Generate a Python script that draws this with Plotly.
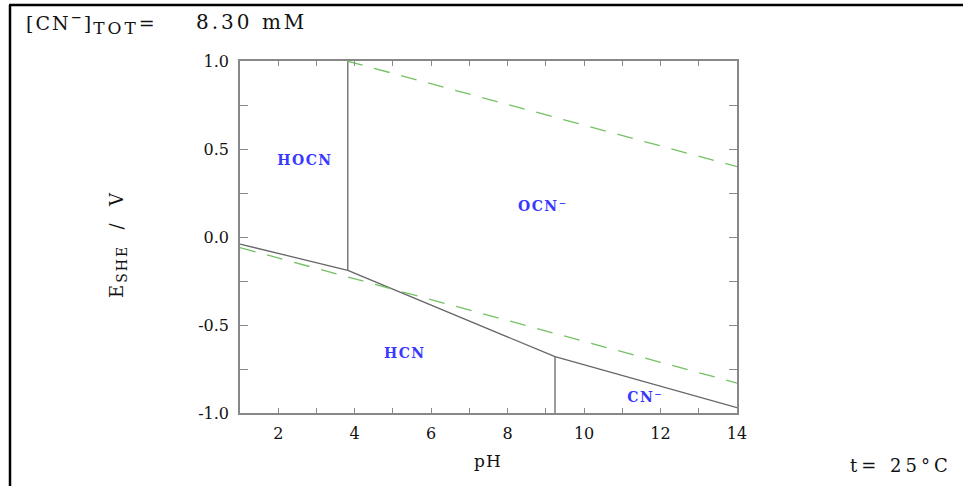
import plotly.graph_objects as go

# Boundary lines
hocn_hcn_ph = [1.0, 3.82]
hocn_hcn_e = [-0.04, -0.19]
ocn_hcn_ph = [3.82, 9.24]
ocn_hcn_e = [-0.19, -0.68]
ocn_cn_ph = [9.24, 14.0]
ocn_cn_e = [-0.68, -0.97]
v1_ph = [3.82, 3.82]
v1_e = [1.0, -0.19]
v2_ph = [9.24, 9.24]
v2_e = [-0.68, -1.0]
# water stability lines
o2_ph = [3.8, 14.0]
o2_e = [1.0, 0.40]
h2_ph = [1.0, 14.0]
h2_e = [-0.06, -0.83]

species = ["HOCN", "OCN⁻", "HCN", "CN⁻"]
species_ph = [2.7, 8.92, 5.31, 11.6]
species_e = [0.43, 0.17, -0.67, -0.92]

x_ticks = [2, 4, 6, 8, 10, 12, 14]
y_ticks = [-1.0, -0.5, 0.0, 0.5, 1.0]
y_ticktext = ["-1.0", "-0.5", "0.0", "0.5", "1.0"]

SERIF = "DejaVu Serif"
GRAY = "#666666"
GREEN = "#74c163"
BLUE = "#3838ff"
TXT = "#111111"

fig = go.Figure()
for xs, ys in [(hocn_hcn_ph, hocn_hcn_e), (ocn_hcn_ph, ocn_hcn_e), (ocn_cn_ph, ocn_cn_e),
               (v1_ph, v1_e), (v2_ph, v2_e)]:
    fig.add_trace(go.Scatter(x=xs, y=ys, mode="lines", line=dict(color=GRAY, width=1.3),
                             showlegend=False, hoverinfo="skip"))
for xs, ys in [(o2_ph, o2_e), (h2_ph, h2_e)]:
    fig.add_trace(go.Scatter(x=xs, y=ys, mode="lines",
                             line=dict(color=GREEN, width=1.3, dash="16px,12px"),
                             showlegend=False, hoverinfo="skip"))
fig.add_trace(go.Scatter(x=species_ph, y=species_e, mode="text",
                         text=[f"<b><span style='letter-spacing:1.5px'>{s}</span></b>" for s in species],
                         textfont=dict(family=SERIF, size=14, color=BLUE),
                         showlegend=False, hoverinfo="skip"))

L, R, T, B = 240, 226, 61, 73
W, H = 963, 486
PW, PH = W - L - R, H - T - B


def px(x):
    return (x - L) / PW


def py(y):
    return (H - B - y) / PH


fig.update_layout(
    width=W, height=H,
    margin=dict(l=L, r=R, t=T, b=B, pad=0),
    paper_bgcolor="white", plot_bgcolor="white",
    font=dict(family=SERIF, size=16, color=TXT),
    xaxis=dict(range=[1, 14], tickvals=x_ticks, ticktext=[str(t) for t in x_ticks],
               ticks="inside", ticklen=5, tickwidth=1, ticklabelstandoff=5,
               tickcolor="#888", showline=True, linecolor="#888", linewidth=1.5,
               mirror="ticks", showgrid=False, zeroline=False,
               minor=dict(dtick=1, ticks="inside", ticklen=5, tickcolor="#888", tick0=1),
               tickfont=dict(family=SERIF, size=16, color=TXT)),
    yaxis=dict(range=[-1, 1], tickvals=y_ticks, ticktext=y_ticktext,
               ticks="inside", ticklen=8, tickwidth=1, ticklabelstandoff=6,
               tickcolor="#888", showline=True, linecolor="#888", linewidth=1.5,
               mirror="ticks", showgrid=False, zeroline=False,
               minor=dict(dtick=0.25, ticks="inside", ticklen=8, tickcolor="#888"),
               tickfont=dict(family=SERIF, size=16, color=TXT)),
)

# outer frame (top and left)
fig.add_shape(type="line", xref="paper", yref="paper", x0=px(9), x1=px(963), y0=py(5), y1=py(5),
              line=dict(color="black", width=2.5))
fig.add_shape(type="line", xref="paper", yref="paper", x0=px(10), x1=px(10), y0=py(5), y1=py(486),
              line=dict(color="black", width=2.5))

fig.add_annotation(xref="paper", yref="paper", x=px(24), y=py(24), xanchor="left", yanchor="middle",
                   text="<span style='letter-spacing:2px'>[CN<sup>−</sup>]"
                        "<sub><span style='font-size:17px;letter-spacing:3px'>TOT</span></sub>=</span>",
                   showarrow=False, font=dict(family=SERIF, size=19, color=TXT))
fig.add_annotation(xref="paper", yref="paper", x=px(194), y=py(22), xanchor="left", yanchor="middle",
                   text="<span style='letter-spacing:3px'>8.30 mM</span>", showarrow=False,
                   font=dict(family=SERIF, size=20, color=TXT))
fig.add_annotation(xref="paper", yref="paper", x=px(848), y=py(465), xanchor="left", yanchor="middle",
                   text="<span style='letter-spacing:4px'>t= 25°C</span>", showarrow=False,
                   font=dict(family=SERIF, size=18, color=TXT))
fig.add_annotation(xref="paper", yref="paper", x=px(488), y=py(461), xanchor="center", yanchor="middle",
                   text="<span style='letter-spacing:1px'>pH</span>", showarrow=False,
                   font=dict(family=SERIF, size=17, color=TXT))
fig.add_annotation(xref="paper", yref="paper", x=px(118), y=py(245), xanchor="center", yanchor="middle",
                   textangle=-90,
                   text="<span style='letter-spacing:2px'>E<sub><span style='font-size:14px'>SHE</span></sub>"
                        "  /  V</span>",
                   showarrow=False, font=dict(family=SERIF, size=18, color=TXT))

fig.write_html("out.html", post_script="document.body.style.margin='0';",
               config={"displayModeBar": False})
